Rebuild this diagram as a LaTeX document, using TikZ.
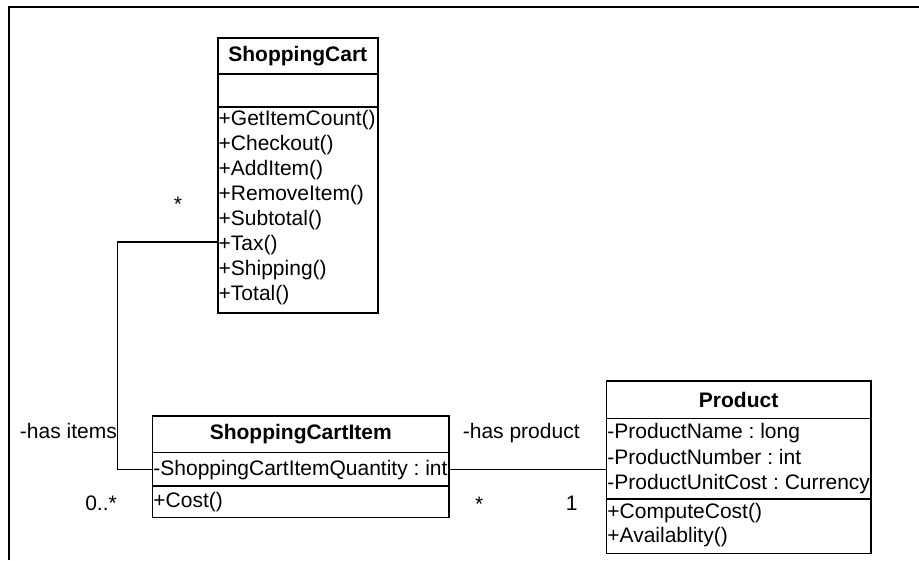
\documentclass[tikz,border=0pt]{standalone}
\usepackage{fontspec}
\setmainfont{Liberation Sans}
\frenchspacing
\begin{document}
\begin{tikzpicture}[x=1pt,y=-1pt,
  every node/.style={font=\fontsize{21pt}{25pt}\selectfont, inner sep=0pt},
  comp/.style={draw, line width=1.5pt, anchor=north west},
  row/.style={anchor=base west},
  conn/.style={line width=1.2pt}]
\useasboundingbox (0,0) rectangle (919,560);
% frame
\draw[line width=2.2pt] (9,560) -- (9,7) -- (919,7);
% ShoppingCart
\node[comp, minimum width=160, minimum height=36] (sct) at (217,37) {\textbf{ShoppingCart}};
\node[comp, minimum width=160, minimum height=33] (sca) at (217,73) {};
\node[comp, minimum width=160, minimum height=206] (scm) at (217,106) {};
\foreach \t [count=\i] in {{+GetItemCount()},{+Checkout()},{+AddItem()},{+RemoveItem()},{+Subtotal()},{+Tax()},{+Shipping()},{+Total()}}
  \node[row] (scm\i) at (218.5,{125.5+25*(\i-1)}) {\t};
% ShoppingCartItem
\node[comp, minimum width=296.6, minimum height=36.7] (sit) at (151.7,415) {\textbf{ShoppingCartItem}};
\node[comp, minimum width=296.6, minimum height=33.3] (sia) at (151.7,451.7) {};
\node[comp, minimum width=296.6, minimum height=31.7] (sim) at (151.7,485) {};
\node[row] (siq) at (153.2,475.3) {-ShoppingCartItemQuantity : int};
\node[row] (sic) at (153.2,507.8) {+Cost()};
% Product
\node[comp, minimum width=264.3, minimum height=37.7] (prt) at (605.7,380) {\textbf{Product}};
\node[comp, minimum width=264.3, minimum height=80.6] (pra) at (605.7,417.7) {};
\node[comp, minimum width=264.3, minimum height=54.4] (prm) at (605.7,498.3) {};
\node[row] (pa1) at (607.2,438.7) {-ProductName : long};
\node[row] (pa2) at (607.2,464.3) {-ProductNumber : int};
\node[row] (pa3) at (607.2,489.7) {-ProductUnitCost : Currency};
\node[row] (pm1) at (607.2,518.7) {+ComputeCost()};
\node[row] (pm2) at (607.2,542.7) {+Availablity()};
% labels
\node[anchor=base east] (lhi) at (117,438.7) {-has items};
\node[anchor=base east] (lmz) at (117,510.4) {0..*};
\node[anchor=base west] (lhp) at (462.7,438) {-has product};
\node[anchor=base] (lst) at (479.3,511) {*};
\node[anchor=base] (lone) at (571.7,510.4) {1};
\node[anchor=base] (lsc) at (178,211) {*};
% connectors
\coordinate (j1) at (117.3,242);
\draw[conn] (scm.west |- j1) -- (j1) |- (sia.west);
\draw[conn] (sia.east) -- (pra.west |- sia.east);
\end{tikzpicture}
\end{document}
